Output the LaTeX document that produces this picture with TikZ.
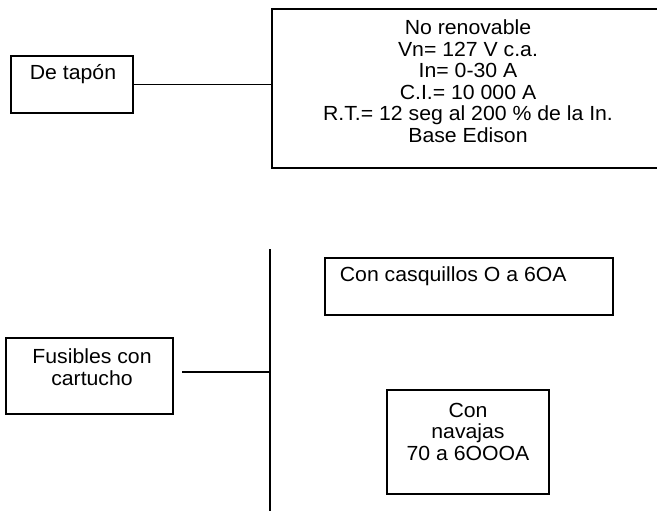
\documentclass[tikz,border=0pt]{standalone}
\usepackage{fontspec}
\setmainfont{Liberation Sans}[FakeStretch=1.04]
\begin{document}
\begin{tikzpicture}[x=1bp,y=-1bp,line width=1.8bp,
  box/.style={draw,rectangle,inner sep=0pt},
  txt/.style={align=center,inner sep=0pt,font=\fontsize{20.5}{21.6}\selectfont},
  bigtxt/.style={align=center,inner sep=0pt,font=\fontsize{20.5}{21.6}\selectfont}]
\useasboundingbox (0,0) rectangle (657,511);
\fill[white] (0,0) rectangle (657,511);
\clip (0,0) rectangle (657,511);
% top group
\node[box,minimum width=122bp,minimum height=57bp] (tapon) at (72,84.5) {};
\node[txt] (tapontxt) at (73,74) {De tapón};
\node[box,minimum width=410bp,minimum height=159bp] (big) at (477,88.8) {};
\node[bigtxt] (bigtxt) at (468,81) {No renovable\\Vn= 127 V c.a.\\In= 0-30 A\\C.I.= 10 000 A\\R.T.= 12 seg al 200 \% de la In.\\Base Edison};
\draw (tapon.east) -- (tapon.east -| big.west);
% bottom group
\coordinate (vtop) at (270,249);
\coordinate (vbot) at (270,511);
\draw (vtop) -- (vbot);
\node[box,minimum width=167bp,minimum height=76bp] (fus) at (89.5,376) {};
\node[txt] (fustxt) at (92,367) {Fusibles con\\cartucho};
\coordinate (fstart) at (182,372);
\draw (fstart) -- (fstart -| vtop);
\node[box,minimum width=288bp,minimum height=57bp] (casq) at (469,286.5) {};
\node[txt,anchor=west] (casqtxt) at (339,276) {Con casquillos O a 6OA};
\node[box,minimum width=162bp,minimum height=104bp] (nav) at (468,442) {};
\node[txt] (navtxt) at (468,431.5) {Con\\navajas\\70 a 6OOOA};
\end{tikzpicture}
\end{document}
